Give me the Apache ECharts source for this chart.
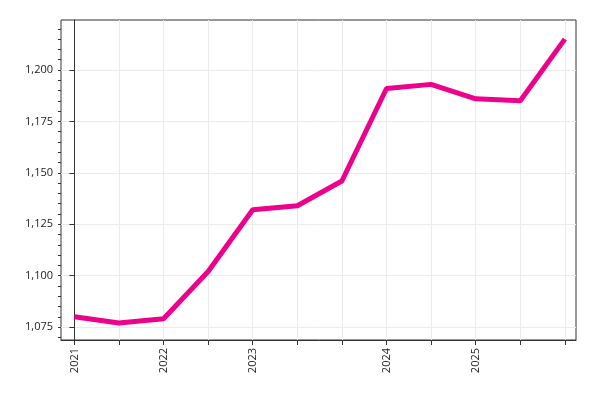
<!DOCTYPE html><html><head><script src="https://cdn.jsdelivr.net/npm/echarts@6/dist/echarts.min.js"></script></head><body style="margin:0"><div id="c" style="width:600px;height:400px"></div><script>
const labels=['2021','','2022','','2023','','','2024','','2025','',''];
const values=[1080,1077,1079,1102,1132,1134,1146,1191,1193,1186,1185,1215];
const yTicks=[1075,1100,1125,1150,1175,1200];
const yMinor=[1070,1075,1080,1085,1090,1095,1100,1105,1110,1115,1120,1125,1130,1135,1140,1145,1150,1155,1160,1165,1170,1175,1180,1185,1190,1195,1200,1205,1210,1215,1220];
const idx=labels.map((_,i)=>i);
const ch=echarts.init(document.getElementById('c'));
const yBase={type:'value',min:1068.7,max:1224.3};
ch.setOption({animation:false,
grid:{left:61,right:24,top:20,bottom:60,show:true,borderColor:'#333',borderWidth:1},
xAxis:{type:'value',min:-0.3,max:11.25,
 axisLine:{lineStyle:{color:'#333'}},
 axisTick:{customValues:idx,length:5,lineStyle:{color:'#333'}},
 axisLabel:{customValues:idx,rotate:90,color:'#222',fontFamily:'Open Sans',fontSize:11,formatter:v=>labels[Math.round(v)]||''},
 splitLine:{show:true,lineStyle:{color:'#ebebeb'}}},
yAxis:[Object.assign({},yBase,{
 axisLine:{show:true,lineStyle:{color:'#333'}},
 axisTick:{show:true,customValues:yTicks,length:5,lineStyle:{color:'#333'}},
 axisLabel:{customValues:yTicks,color:'#222',fontFamily:'Open Sans',fontSize:11},
 splitLine:{show:true,lineStyle:{color:'#ebebeb'}}}),
 Object.assign({},yBase,{position:'left',
 axisLine:{show:false},
 axisTick:{show:true,customValues:yMinor,length:3,lineStyle:{color:'#333'}},
 axisLabel:{show:false},splitLine:{show:false}})],
series:[{type:'line',data:idx.map(i=>[i,values[i]]),showSymbol:false,lineStyle:{color:'#ec008c',width:5},itemStyle:{color:'#ec008c'}}]});
</script></body></html>
